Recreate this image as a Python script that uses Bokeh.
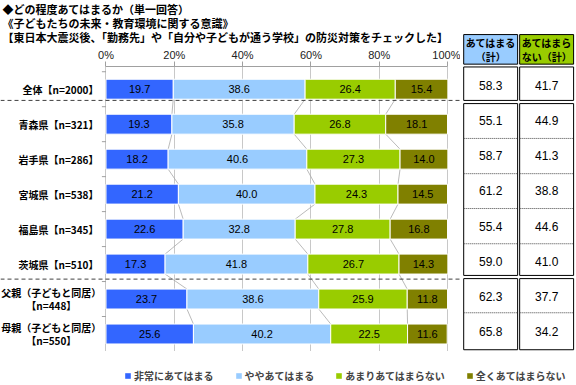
import numpy as np
from bokeh.plotting import figure
from bokeh.models import (Range1d, FixedTicker, Span, Legend, LegendItem, Spacer,
                          PrintfTickFormatter)
from bokeh.layouts import row, column
from bokeh.core.properties import value
from bokeh.embed import file_html
from bokeh.resources import INLINE

# ---------------- data ----------------
title_lines = [
    "◆どの程度あてはまるか（単一回答）",
    "《子どもたちの未来・教育環境に関する意識》",
    "【東日本大震災後、「勤務先」や「自分や子どもが通う学校」の防災対策をチェックした】",
]
categories = [
    "全体【n=2000】",
    "青森県【n=321】",
    "岩手県【n=286】",
    "宮城県【n=538】",
    "福島県【n=345】",
    "茨城県【n=510】",
    "父親（子どもと同居）\n【n=448】",
    "母親（子どもと同居）\n【n=550】",
]
series_names = ["非常にあてはまる", "ややあてはまる", "あまりあてはまらない", "全くあてはまらない"]
very = [19.7, 19.3, 18.2, 21.2, 22.6, 17.3, 23.7, 25.6]
somewhat = [38.6, 35.8, 40.6, 40.0, 32.8, 41.8, 38.6, 40.2]
not_much = [26.4, 26.8, 27.3, 24.3, 27.8, 26.7, 25.9, 22.5]
not_at_all = [15.4, 18.1, 14.0, 14.5, 16.8, 14.3, 11.8, 11.6]
x_ticks = [0, 20, 40, 60, 80, 100]
table_headers = ["あてはまる\n（計）", "あてはまら\nない（計）"]
apply_total = [58.3, 55.1, 58.7, 61.2, 55.4, 59.0, 62.3, 65.8]
not_apply_total = [41.7, 44.9, 41.3, 38.8, 44.6, 41.0, 37.7, 34.2]

# ---------------- style / layout ----------------
colors = ["#3366ff", "#99ccff", "#99cc00", "#808000"]
JP = "Noto Sans CJK JP"
NUM = "Liberation Sans"

W = 576
W_LEFT = 460
W_TABLE = W - W_LEFT
TITLE_H = 45
LEFT_H = 306
TOP_BORDER = 19
SPACER_H = 33
LEG_H = 34
TABLE_H = TITLE_H + LEFT_H - SPACER_H

Y_TOP, Y_BOT = -0.65, 7.5
X0, X1 = -30.89, 103.8
BAR_H = 0.57


def bare(fig):
    fig.outline_line_color = None
    fig.background_fill_color = "white"
    fig.border_fill_color = "white"
    return fig


# ---------------- title ----------------
pt = bare(figure(width=W_LEFT, height=TITLE_H, x_range=Range1d(0, W_LEFT),
                 y_range=Range1d(TITLE_H, 0), x_axis_type=None, y_axis_type=None,
                 toolbar_location=None, output_backend="svg", min_border=0))
pt.text(x=[2, 2, 2], y=[8, 22, 36], text=title_lines, text_font=value(JP),
        text_font_style="bold", text_font_size="11px", text_baseline="middle",
        text_color="black")

# ---------------- bars ----------------
p = bare(figure(width=W_LEFT, height=LEFT_H, x_range=Range1d(X0, X1),
                y_range=Range1d(Y_BOT, Y_TOP), x_axis_location="above",
                y_axis_type=None, toolbar_location=None, output_backend="svg",
                min_border=0, min_border_top=TOP_BORDER))
ax = p.xaxis[0]
ax.ticker = FixedTicker(ticks=x_ticks, minor_ticks=[])
ax.formatter = PrintfTickFormatter(format="%d%%")
ax.bounds = (0, 100)
ax.axis_line_color = "#a0a0a0"
ax.major_tick_line_color = "#a0a0a0"
ax.major_tick_out = 5
ax.major_tick_in = 0
ax.minor_tick_out = 0
ax.minor_tick_in = 0
ax.major_label_standoff = 1
ax.major_label_text_font = NUM
ax.major_label_text_font_size = "11px"
ax.major_label_text_color = "#222222"
p.xgrid.grid_line_color = "#c8c8c8"

v = np.array([very, somewhat, not_much, not_at_all])
cum = np.cumsum(v, axis=0)
left = cum - v
y = np.arange(len(categories))

# connector lines between rows
for k in range(3):
    p.segment(x0=cum[k][:-1], y0=y[:-1] + BAR_H / 2, x1=cum[k][1:], y1=y[1:] - BAR_H / 2,
              line_color="#a8a8a8", line_width=0.8)

for k in range(4):
    p.hbar(y=y, left=left[k], right=cum[k], height=BAR_H, fill_color=colors[k],
           line_color="white", line_width=1)
    p.text(x=(left[k] + cum[k]) / 2, y=y, text=[f"{t:.1f}" for t in v[k]],
           text_font=value(NUM), text_font_size="11px", text_align="center",
           text_baseline="middle", text_color="black")

# left axis ticks at row boundaries
bnd = np.arange(-0.5, len(categories), 1.0)
p.segment(x0=np.full(len(bnd), -1.2), y0=bnd, x1=np.zeros(len(bnd)), y1=bnd,
          line_color="#a0a0a0", line_width=1)

# row labels
lab_style = dict(text_font=value(JP), text_font_style="bold", text_font_size="10px",
                 text_baseline="middle", text_color="black")
single = [i for i, c in enumerate(categories) if "\n" not in c]
double = [i for i, c in enumerate(categories) if "\n" in c]
p.text(x=[-2.2] * len(single), y=[y[i] for i in single], text=[categories[i] for i in single],
       text_align="right", **lab_style)
p.text(x=[-16.0] * len(double), y=[y[i] - 0.18 for i in double],
       text=[categories[i].split("\n")[0] for i in double], text_align="center", **lab_style)
p.text(x=[-16.0] * len(double), y=[y[i] + 0.18 for i in double],
       text=[categories[i].split("\n")[1] for i in double], text_align="center", **lab_style)

for loc in (0.32, 5.43):
    p.add_layout(Span(location=loc, dimension="width", line_color="#404040",
                      line_dash="4 3", line_width=1))

# ---------------- table ----------------
unit_px = (LEFT_H - TOP_BORDER) / (Y_BOT - Y_TOP)
table_top = Y_BOT - TABLE_H / unit_px
ptb = bare(figure(width=W_TABLE, height=TABLE_H, x_range=Range1d(0, 2),
                  y_range=Range1d(Y_BOT, table_top), x_axis_type=None, y_axis_type=None,
                  toolbar_location=None, output_backend="svg", min_border=0))
col_l = [0.055, 1.02]
col_r = [0.985, 1.95]
hdr_top, hdr_bot = -1.50, -0.66
ptb.quad(left=col_l, right=col_r, top=[hdr_top] * 2, bottom=[hdr_bot] * 2,
         fill_color=[colors[1], colors[2]], line_color="black", line_width=1)
hdr_mid = (hdr_top + hdr_bot) / 2
hstyle = dict(text_font=value(JP), text_font_style="bold", text_font_size="10px",
              text_align="center", text_baseline="middle", text_color="black")
ptb.text(x=[0.52, 1.485], y=[hdr_mid - 0.2] * 2, text=[h.split("\n")[0] for h in table_headers],
         **hstyle)
ptb.text(x=[0.52, 1.485], y=[hdr_mid + 0.2] * 2, text=[h.split("\n")[1] for h in table_headers],
         **hstyle)
groups = [(-0.58, 0.37), (0.46, 5.34), (5.43, 7.45)]
for c in range(2):
    ptb.quad(left=[col_l[c]] * 3, right=[col_r[c]] * 3, top=[g[0] for g in groups],
             bottom=[g[1] for g in groups], fill_color="white", line_color="black",
             line_width=1)
seps = [1.45, 2.45, 3.44, 4.44, 6.40]
for c in range(2):
    ptb.segment(x0=[col_l[c]] * len(seps), y0=seps, x1=[col_r[c]] * len(seps), y1=seps,
                line_color="#444444", line_width=1, line_dash="1 1")
for c, vals in enumerate([apply_total, not_apply_total]):
    ptb.text(x=[(col_l[c] + col_r[c]) / 2] * len(vals), y=y - 0.06,
             text=[f"{t:.1f}" for t in vals],
             text_font=value(NUM), text_font_size="12px", text_align="center",
             text_baseline="middle", text_color="black")

# ---------------- legend ----------------
pl = bare(figure(width=W, height=LEG_H, x_range=Range1d(0, 1), y_range=Range1d(0, 1),
                 x_axis_type=None, y_axis_type=None, toolbar_location=None,
                 output_backend="svg", min_border=0))
items = []
for k in range(4):
    r = pl.quad(left=[-3], right=[-2], top=[-2], bottom=[-3], fill_color=colors[k],
                line_color=None)
    items.append(LegendItem(label=series_names[k], renderers=[r]))
leg = Legend(items=items, orientation="horizontal", location=(124, 2), spacing=21,
             glyph_width=7, glyph_height=7, label_standoff=3, padding=0, margin=0,
             border_line_color=None, background_fill_alpha=0, label_text_font=JP,
             label_text_font_style="bold", label_text_font_size="10px",
             label_height=14)
pl.add_layout(leg)

layout = column(row(column(pt, p), column(Spacer(width=W_TABLE, height=SPACER_H), ptb)), pl)

open("out.html", "w").write(file_html(layout, INLINE))
